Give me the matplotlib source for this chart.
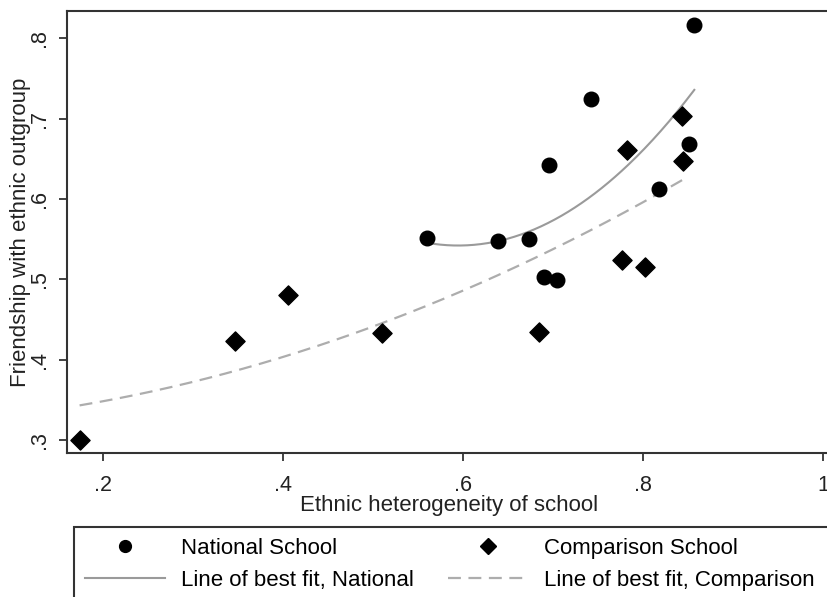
import matplotlib
matplotlib.use("Agg")
import matplotlib.pyplot as plt
from matplotlib.patches import Rectangle
import numpy as np

plt.rcParams['font.family'] = ['Liberation Sans', 'DejaVu Sans']

# National schools (circles)
nat_x = [0.560, 0.639, 0.673, 0.690, 0.704, 0.696, 0.742, 0.818, 0.851, 0.857]
nat_y = [0.552, 0.548, 0.550, 0.503, 0.499, 0.642, 0.725, 0.612, 0.668, 0.817]

# Comparison schools (diamonds)
cmp_x = [0.174, 0.347, 0.406, 0.510, 0.684, 0.777, 0.782, 0.802, 0.843, 0.844]
cmp_y = [0.300, 0.423, 0.480, 0.433, 0.434, 0.524, 0.661, 0.516, 0.703, 0.647]

xticks = [0.2, 0.4, 0.6, 0.8, 1.0]
xtick_labels = ['.2', '.4', '.6', '.8', '1']
yticks = [0.3, 0.4, 0.5, 0.6, 0.7, 0.8]
ytick_labels = ['.3', '.4', '.5', '.6', '.7', '.8']


def qfit(x, y):
    # quadratic line of best fit over the data range
    c = np.polyfit(x, y, 2)
    xs = np.linspace(min(x), max(x), 200)
    return xs, np.polyval(c, xs)


W, H = 827, 597
DASH = (0, (5.8, 3.4))
fig = plt.figure(figsize=(W / 100, H / 100), dpi=100)
ax = fig.add_axes([67 / W, 1 - 453 / H, 765 / W, 442 / H])

nx, ny = qfit(nat_x, nat_y)
cx, cy = qfit(cmp_x, cmp_y)

ax.scatter(nat_x, nat_y, marker='o', s=110, color='black', zorder=3)
ax.scatter(cmp_x, cmp_y, marker='D', s=95, color='black', zorder=3)
ax.plot(nx, ny, color='#9a9a9a', lw=1.5, zorder=2)
ax.plot(cx, cy, color='#adadad', lw=1.6, ls=DASH, zorder=2)

ax.set_xlim(0.16, 1.01)
ax.set_ylim(0.284, 0.834)
ax.set_xticks(xticks)
ax.set_xticklabels(xtick_labels)
ax.set_yticks(yticks)
ax.set_yticklabels(ytick_labels, rotation=90, va='center')
ax.tick_params(direction='out', length=6, width=1.2, labelsize=15.5, colors='#222222', pad=6)
ax.tick_params(axis='x', pad=10)
for s in ax.spines.values():
    s.set_linewidth(1.5)
    s.set_color('#333333')

ax.set_xlabel('Ethnic heterogeneity of school', fontsize=16, color='#222222', labelpad=-1)
ax.set_ylabel('Friendship with ethnic outgroup', fontsize=16, color='#222222', labelpad=-1)

# legend box that runs off the bottom and right edges
fig.patches.append(Rectangle((74 / W, -0.05), 0.98, 1 - 527 / H + 0.05,
                             transform=fig.transFigure, fill=False,
                             edgecolor='#333333', lw=1.5))

h1 = plt.Line2D([], [], marker='o', ls='none', color='black', markersize=8.5)
h2 = plt.Line2D([], [], color='#9a9a9a', lw=1.5)
h3 = plt.Line2D([], [], marker='D', ls='none', color='black', markersize=8.5)
h4 = plt.Line2D([], [], color='#adadad', lw=1.6, ls=DASH)

legend_kw = dict(loc='upper left', frameon=False, fontsize=16, handlelength=3.6,
                 handletextpad=0.7, borderaxespad=0, borderpad=0, labelspacing=0.5)
fig.legend([h1, h2], ['National School', 'Line of best fit, National'],
           bbox_to_anchor=(85 / W, 1 - 538 / H), **legend_kw)
fig.legend([h3, h4], ['Comparison School', 'Line of best fit, Comparison'],
           bbox_to_anchor=(448 / W, 1 - 538 / H), **legend_kw)

fig.savefig('out.png', dpi=100)
